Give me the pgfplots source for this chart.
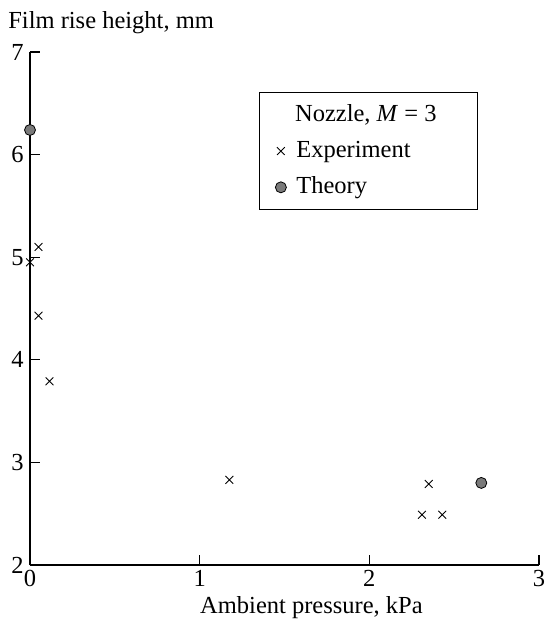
\documentclass[border=0pt]{standalone}
\usepackage{fontspec}
\setmainfont{Liberation Serif}
\usepackage{pgfplots}
\pgfplotsset{compat=1.18}
\newcommand{\ff}{\fontsize{24.5}{29}\selectfont}
\begin{document}
\ff
\begin{tikzpicture}
\begin{axis}[
  scale only axis,
  width=509pt, height=513pt,
  xmin=0, xmax=3, ymin=2, ymax=7,
  axis x line*=bottom, axis y line*=left,
  axis line style={line width=1.1pt},
  xtick={0,1,2,3}, ytick={2,3,4,5,6,7},
  tick align=inside,
  major tick length=10pt,
  tick style={line width=1.1pt, black},
  /pgf/number format/assume math mode=true,
  tick label style={font=\ff},
  yticklabel style={xshift=2pt},
  xticklabel style={yshift=3pt},
  xlabel={Ambient pressure, kPa},
  xlabel style={at={(rel axis cs:0.553,0)}, anchor=base, yshift=-48pt, font=\ff},
  clip=false,
  legend image code/.code={\draw[mark repeat=2,mark phase=2,#1] plot coordinates {(0pt,0pt)(7pt,0pt)(14pt,0pt)}; \path (0pt,0pt) (20pt,0pt);},
  legend style={at={(0.45,0.922)}, anchor=north west, draw=black, line width=0.8pt,
    font=\ff, inner xsep=14pt, inner ysep=10pt,
    row sep=12pt, column sep=0pt, cells={anchor=west}},
  legend cell align=left,
]
\addlegendimage{empty legend}
\addlegendentry{\hspace*{-26pt}\makebox[191pt][c]{Nozzle, \textit{M} = 3}}
\addplot[only marks, mark=x, mark size=5.5pt, line width=0.9pt, black] coordinates {
  (0.05,5.10) (0.0,4.95) (0.05,4.43) (0.115,3.79) (1.175,2.83)
  (2.35,2.79) (2.31,2.49) (2.43,2.49)
};
\addlegendentry{Experiment}
\addplot[only marks, mark=*, mark size=5.5pt, mark options={fill=black!52, draw=black, line width=0.8pt}] coordinates {
  (0.0,6.24) (2.66,2.80)
};
\addlegendentry{Theory}
\node[anchor=base west, font=\ff] at (rel axis cs:0,1) [xshift=-30pt, yshift=24pt] {Film rise height, mm};
\path (rel axis cs:0,0) ++(-30pt,-70pt) rectangle ++(545pt,635pt);
\end{axis}
\end{tikzpicture}
\end{document}
